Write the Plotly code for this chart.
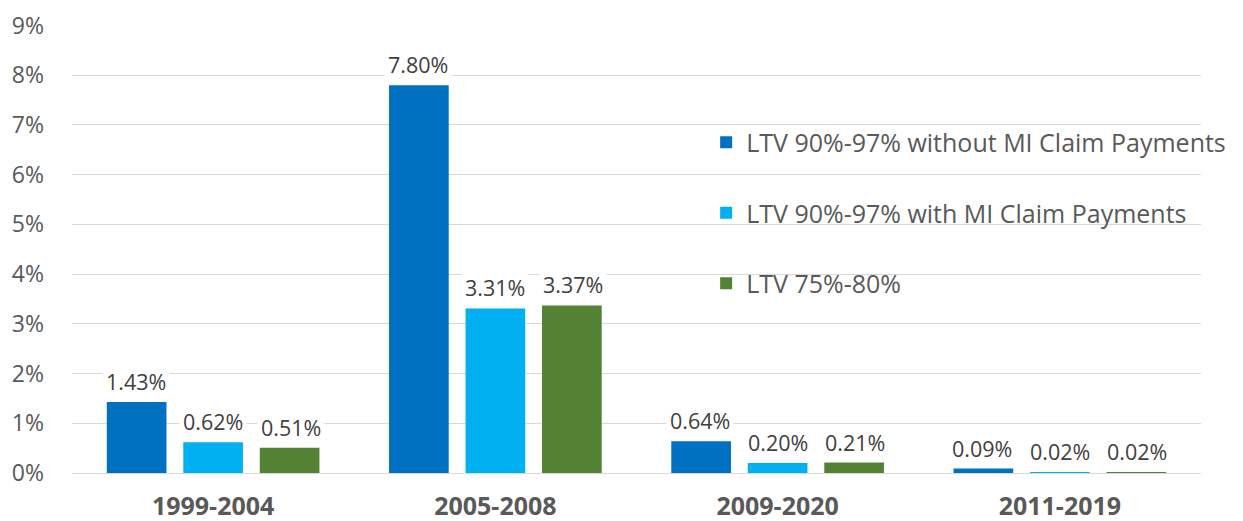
import plotly.graph_objects as go

categories = ["1999-2004", "2005-2008", "2009-2020", "2011-2019"]
series_names = [
    "LTV 90%-97% without MI Claim Payments",
    "LTV 90%-97% with MI Claim Payments",
    "LTV 75%-80%",
]
without_mi = [1.43, 7.80, 0.64, 0.09]
with_mi = [0.62, 3.31, 0.20, 0.02]
ltv_75_80 = [0.51, 3.37, 0.21, 0.02]
y_ticks = [0, 1, 2, 3, 4, 5, 6, 7, 8, 9]

series_values = [without_mi, with_mi, ltv_75_80]
colors = ["#0070C0", "#00B0F0", "#548235"]
FONT = "Open Sans"

# page body has an 8px default margin; size the figure to fit the window
W, H = 1235, 513
L, R, T, B = 64, 27, 17, 48
plot_w = W - L - R
bargap = 0.187
slot_px = plot_w / len(categories) * (1 - bargap) / 3

fig = go.Figure()
for i, (name, vals, col) in enumerate(zip(series_names, series_values, colors)):
    fig.add_trace(go.Bar(
        x=categories, y=vals, name=name, marker_color=col,
        marker_line_width=0, legendgroup=f"g{i}",
    ))

for i, vals in enumerate(series_values):
    for c, v in zip(categories, vals):
        fig.add_annotation(
            x=c, y=v, text=f"{v:.2f}%", showarrow=False,
            xref="x", yref="y", yanchor="bottom", xshift=(i - 1) * slot_px,
            yshift=2, bgcolor="white", borderpad=3,
            font=dict(family=FONT, size=21.5, color="#404040"),
        )

fig.update_layout(
    width=W, height=H,
    margin=dict(l=L, r=R, t=T, b=B),
    paper_bgcolor="white", plot_bgcolor="white",
    barmode="group", bargap=bargap, bargroupgap=0.22,
    font=dict(family=FONT, color="#595959"),
    legend=dict(
        x=0.5617, y=0.789, xanchor="left", yanchor="top",
        font=dict(family=FONT, size=25, color="#595959"),
        traceorder="grouped", tracegroupgap=35, bgcolor="rgba(255,255,255,0)",
        itemwidth=30,
    ),
    showlegend=True,
)
fig.update_xaxes(
    showgrid=False, showline=False, ticks="", automargin=False,
    tickfont=dict(family=FONT, size=25, color="#595959", weight="bold"),
    ticklabelstandoff=16,
)
fig.update_yaxes(
    range=[0, 9.01], tickvals=y_ticks, ticktext=[f"{t}%" for t in y_ticks],
    showgrid=True, gridcolor="#D9D9D9", gridwidth=1, zeroline=True,
    zerolinecolor="#D9D9D9", zerolinewidth=1, automargin=False,
    tickfont=dict(family=FONT, size=23, color="#595959"),
    ticklabelstandoff=27, ticklabeloverflow="allow",
)

fig.write_html("out.html")
